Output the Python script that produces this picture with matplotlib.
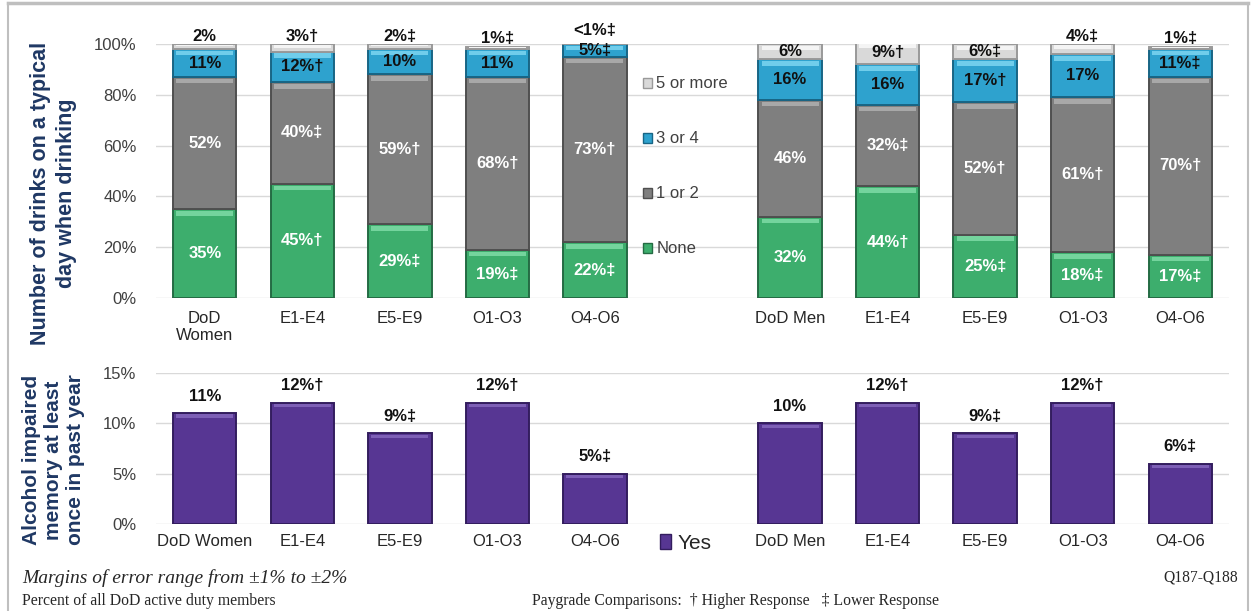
import numpy as np
import matplotlib
matplotlib.use('Agg')
import matplotlib.pyplot as plt
from matplotlib.patches import Patch
from matplotlib.lines import Line2D

plt.rcParams['font.family'] = ['Liberation Sans', 'DejaVu Sans']

# ---- data ----
top_labels = ['DoD\nWomen', 'E1-E4', 'E5-E9', 'O1-O3', 'O4-O6',
              'DoD Men', 'E1-E4', 'E5-E9', 'O1-O3', 'O4-O6']
bot_labels = ['DoD Women', 'E1-E4', 'E5-E9', 'O1-O3', 'O4-O6',
              'DoD Men', 'E1-E4', 'E5-E9', 'O1-O3', 'O4-O6']

none_vals = [35, 45, 29, 19, 22, 32, 44, 25, 18, 17]
one_two_vals = [52, 40, 59, 68, 73, 46, 32, 52, 61, 70]
three_four_vals = [11, 12, 10, 11, 5, 16, 16, 17, 17, 11]
five_plus_vals = [2, 3, 2, 1, 0.5, 6, 9, 6, 4, 1]

none_txt = ['35%', '45%†', '29%‡', '19%‡', '22%‡', '32%', '44%†', '25%‡', '18%‡', '17%‡']
one_two_txt = ['52%', '40%‡', '59%†', '68%†', '73%†', '46%', '32%‡', '52%†', '61%†', '70%†']
three_four_txt = ['11%', '12%†', '10%', '11%', '5%‡', '16%', '16%', '17%†', '17%', '11%‡']
five_plus_txt = ['2%', '3%†', '2%‡', '1%‡', '<1%‡', '6%', '9%†', '6%‡', '4%‡', '1%‡']

memory_vals = [11, 12, 9, 12, 5, 10, 12, 9, 12, 6]
memory_txt = ['11%', '12%†', '9%‡', '12%†', '5%‡', '10%', '12%†', '9%‡', '12%†', '6%‡']

# women at 0..4, gap at 5 (legend), men at 6..10
xpos = np.r_[0:5, 6:11]
W = 0.65

# colours: face, highlight, edge
segs = [
    ('None', none_vals, none_txt, '#3DAE6D', '#74D49D', '#246B43', 'white'),
    ('1 or 2', one_two_vals, one_two_txt, '#7F7F7F', '#A8A8A8', '#4F4F4F', 'white'),
    ('3 or 4', three_four_vals, three_four_txt, '#2EA2CE', '#70CDEB', '#186585', '#111111'),
    ('5 or more', five_plus_vals, five_plus_txt, '#D9D9D9', '#F4F4F4', '#999999', '#111111'),
]
purple = ('#573693', '#7D5FB6', '#331D5E')

fig = plt.figure(figsize=(12.51, 6.11), dpi=100)
fig.patch.set_facecolor('white')

ax1 = fig.add_axes([0.1247, 0.512, 0.8577, 0.416])
ax2 = fig.add_axes([0.1247, 0.1424, 0.8577, 0.2471])

grid_c = '#D9D9D9'
tick_c = '#404040'


def style_axis(ax):
    for s in ax.spines.values():
        s.set_visible(False)
    ax.yaxis.grid(True, color=grid_c, lw=1)
    ax.set_axisbelow(True)
    ax.tick_params(axis='both', length=0, labelsize=12, labelcolor=tick_c)
    ax.set_xlim(-0.5, 10.5)


def bevel_bar(ax, x, bottom, h, face, light, edge, band):
    ax.bar(x, h, W, bottom=bottom, color=face, edgecolor=edge, lw=1.4, zorder=2)
    bh = min(band, 0.35 * h)
    ax.bar(x, bh, W * 0.9, bottom=bottom + h - bh * 1.4, color=light, lw=0, zorder=3)


# ---- top chart ----
style_axis(ax1)
bottoms = np.zeros(len(xpos))
for name, vals, txts, face, light, edge, tcol in segs:
    vals = np.array(vals, dtype=float)
    for i, x in enumerate(xpos):
        bevel_bar(ax1, x, bottoms[i], vals[i], face, light, edge, 1.8)
        ty = bottoms[i] + vals[i] / 2
        if name == '5 or more' and vals[i] < 5:
            ty = bottoms[i] + vals[i] + 3
            if three_four_vals[i] < 6:
                ty += 1.8
        ax1.text(x, ty, txts[i], ha='center', va='center', fontsize=12,
                 fontweight='bold', color=tcol, zorder=5)
    bottoms += vals

ax1.set_ylim(0, 100)
ax1.set_yticks(np.arange(0, 101, 20))
ax1.set_yticklabels([f'{v}%' for v in range(0, 101, 20)])
ax1.set_xticks(xpos)
ax1.set_xticklabels(top_labels, color='#262626')
ax1.tick_params(axis='x', pad=9)
ax1.tick_params(axis='y', pad=14)

handles = [Patch(facecolor=s[3], edgecolor=s[5], label=s[0]) for s in segs[::-1]]
fig.legend(handles=handles, loc='center left', bbox_to_anchor=(0.502, 0.7275),
           frameon=False, fontsize=12, handlelength=0.55, handleheight=0.55,
           handletextpad=0.25, labelspacing=2.4, labelcolor=tick_c)

# ---- bottom chart ----
style_axis(ax2)
for i, x in enumerate(xpos):
    bevel_bar(ax2, x, 0, memory_vals[i], purple[0], purple[1], purple[2], 0.3)
    ax2.annotate(memory_txt[i], (x, memory_vals[i]), xytext=(0, 7),
                 textcoords='offset points', ha='center', va='bottom',
                 fontsize=12, fontweight='bold', color='#111111')
ax2.set_ylim(0, 15)
ax2.set_yticks([0, 5, 10, 15])
ax2.set_yticklabels(['0%', '5%', '10%', '15%'])
ax2.set_xticks(xpos)
ax2.set_xticklabels(bot_labels, color='#262626')
ax2.tick_params(axis='x', pad=7)
ax2.tick_params(axis='y', pad=14)

fig.legend(handles=[Patch(facecolor=purple[0], edgecolor=purple[2], label='Yes')],
           loc='center', bbox_to_anchor=(0.548, 0.111), frameon=False,
           fontsize=15, handlelength=0.55, handleheight=0.7, handletextpad=0.3,
           labelcolor='#262626')

# ---- axis titles ----
navy = '#1F3864'
fig.text(0.0425, 1 - 193 / 611, 'Number of drinks on a typical\nday when drinking',
         rotation=90, ha='center', va='center', fontsize=15.5, fontweight='bold',
         color=navy, linespacing=1.3)
fig.text(0.0424, 1 - 460 / 611, 'Alcohol impaired\nmemory at least\nonce in past year',
         rotation=90, ha='center', va='center', fontsize=15, fontweight='bold',
         color=navy, linespacing=1.2)

# ---- footer notes ----
serif = ['Liberation Serif', 'DejaVu Serif']
fig.text(0.0176, 1 - 578 / 611, 'Margins of error range from ±1% to ±2%',
         family=serif, style='italic', fontsize=14, va='center', color='#262626')
fig.text(0.0176, 1 - 601 / 611, 'Percent of all DoD active duty members',
         family=serif, fontsize=11.3, va='center', color='#262626')
fig.text(0.4253, 1 - 601 / 611, 'Paygrade Comparisons:  † Higher Response   ‡ Lower Response',
         family=serif, fontsize=11.3, va='center', color='#262626')
fig.text(0.99, 1 - 578 / 611, 'Q187-Q188', family=serif, fontsize=11.2,
         ha='right', va='center', color='#262626')

# ---- frame ----
frame_c = '#BFBFBF'
fig.add_artist(Line2D([0.006, 0.998], [0.995, 0.995], color=frame_c, lw=2.5))
fig.add_artist(Line2D([0.0065, 0.0065], [0.0, 0.995], color=frame_c, lw=1.5))
fig.add_artist(Line2D([0.998, 0.998], [0.0, 0.995], color=frame_c, lw=1.5))

fig.savefig('out.png', dpi=100, facecolor='white')
